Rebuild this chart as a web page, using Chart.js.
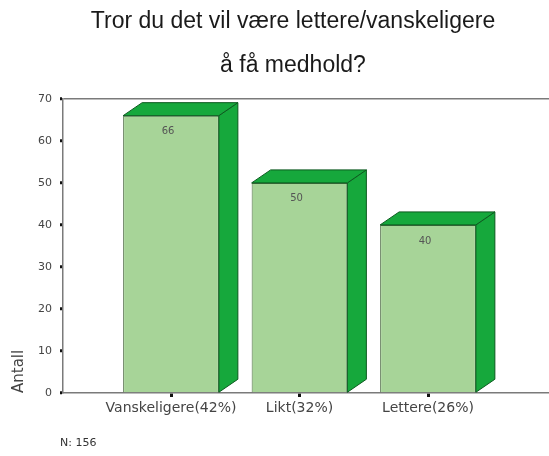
<!DOCTYPE html>
<html>
<head>
<meta charset="utf-8">
<script src="https://cdn.jsdelivr.net/npm/chart.js@4.4.1/dist/chart.umd.min.js"></script>
<style>
html,body{margin:0;padding:0;background:#fff;}
#wrap{width:549px;height:456px;}
</style>
</head>
<body>
<div id="wrap"><canvas id="c" width="549" height="456"></canvas></div>
<script>
const titleLines = ['Tror du det vil være lettere/vanskeligere', 'å få medhold?'];
const categories = ['Vanskeligere(42%)', 'Likt(32%)', 'Lettere(26%)'];
const counts = [66, 50, 40];
const yTickValues = [0, 10, 20, 30, 40, 50, 60, 70];
const yAxisTitle = 'Antall';
const footnote = 'N: 156';

const positions = categories.map((c, i) => i + 1);
const points = positions.map((p, i) => ({ x: p, y: counts[i] }));

const DEPTH_X = 19, DEPTH_Y = 13;
const SMALL_FONT = "'DejaVu Sans', sans-serif";

const bar3d = {
  id: 'bar3d',
  afterLayout(chart) {
    if (chart.titleBlock) { chart.titleBlock.left = 37; }
  },
  afterDatasetsDraw(chart) {
    const ctx = chart.ctx;
    const meta = chart.getDatasetMeta(0);
    ctx.save();
    meta.data.forEach((el, i) => {
      const p = el.getProps(['x', 'y', 'base', 'width'], true);
      const L = p.x - p.width / 2, R = p.x + p.width / 2, T = p.y, B = p.base;
      ctx.fillStyle = '#16a83c';
      ctx.strokeStyle = '#0b5a1e';
      ctx.lineWidth = 1;
      // side face
      ctx.beginPath();
      ctx.moveTo(R, T);
      ctx.lineTo(R + DEPTH_X, T - DEPTH_Y);
      ctx.lineTo(R + DEPTH_X, B - DEPTH_Y);
      ctx.lineTo(R, B);
      ctx.closePath();
      ctx.fill(); ctx.stroke();
      // top face
      ctx.beginPath();
      ctx.moveTo(L, T);
      ctx.lineTo(L + DEPTH_X, T - DEPTH_Y);
      ctx.lineTo(R + DEPTH_X, T - DEPTH_Y);
      ctx.lineTo(R, T);
      ctx.closePath();
      ctx.fill(); ctx.stroke();
      // value label
      ctx.fillStyle = '#555';
      ctx.font = "10px " + SMALL_FONT;
      ctx.textAlign = 'center';
      ctx.textBaseline = 'middle';
      ctx.fillText(String(counts[i]), p.x - 3, T + 16);
    });
    // footnote
    ctx.fillStyle = '#333';
    ctx.font = "11px " + SMALL_FONT;
    ctx.textAlign = 'left';
    ctx.textBaseline = 'middle';
    ctx.fillText(footnote, 60, 443);
    ctx.restore();
  }
};

new Chart(document.getElementById('c'), {
  type: 'bar',
  data: {
    datasets: [{
      data: points,
      backgroundColor: '#a7d498',
      borderColor: '#4d6b44',
      borderWidth: 1,
      barPercentage: 0.745,
      categoryPercentage: 1.0
    }]
  },
  options: {
    responsive: false,
    devicePixelRatio: 1,
    animation: false,
    layout: { padding: { left: 0, right: 0, top: 0, bottom: 30 } },
    plugins: {
      legend: { display: false },
      tooltip: { enabled: false },
      title: {
        display: true,
        text: titleLines,
        color: '#1a1a1a',
        font: { family: "'Liberation Sans', Arial, sans-serif", size: 23, weight: 'normal', lineHeight: 1.91 },
        padding: { top: 0, bottom: 11 }
      }
    },
    scales: {
      x: {
        type: 'linear',
        min: 0.1595,
        max: 3.9416,
        offset: false,
        afterBuildTicks(scale) { scale.ticks = positions.map(v => ({ value: v })); },
        afterFit(scale) { scale.height = 33; },
        ticks: {
          autoSkip: false,
          maxRotation: 0,
          padding: 3,
          color: '#444',
          font: { family: SMALL_FONT, size: 14 },
          callback: (v) => { const i = positions.indexOf(v); return i >= 0 ? categories[i] : ''; }
        },
        grid: { offset: false, drawOnChartArea: false, drawTicks: true, tickLength: 4, tickWidth: 3, tickColor: '#111' },
        border: { display: true, color: '#7a7a7a', width: 1.5 }
      },
      y: {
        min: 0,
        max: 70,
        afterBuildTicks(scale) { scale.ticks = yTickValues.map(v => ({ value: v })); },
        afterFit(scale) { scale.width = 63; },
        ticks: {
          padding: 8,
          color: '#444',
          font: { family: SMALL_FONT, size: 11 }
        },
        title: {
          display: true,
          text: yAxisTitle,
          align: 'start',
          color: '#444',
          font: { family: SMALL_FONT, size: 15 },
          padding: { top: 10, bottom: 0 }
        },
        grid: {
          drawOnChartArea: true,
          color: (c) => (c.tick && c.tick.value === 70 ? '#7a7a7a' : 'rgba(0,0,0,0)'),
          lineWidth: 1.5,
          drawTicks: true,
          tickLength: 3,
          tickWidth: 3,
          tickColor: '#111'
        },
        border: { display: true, color: '#7a7a7a', width: 1.5 }
      }
    }
  },
  plugins: [bar3d]
});
</script>
</body>
</html>
